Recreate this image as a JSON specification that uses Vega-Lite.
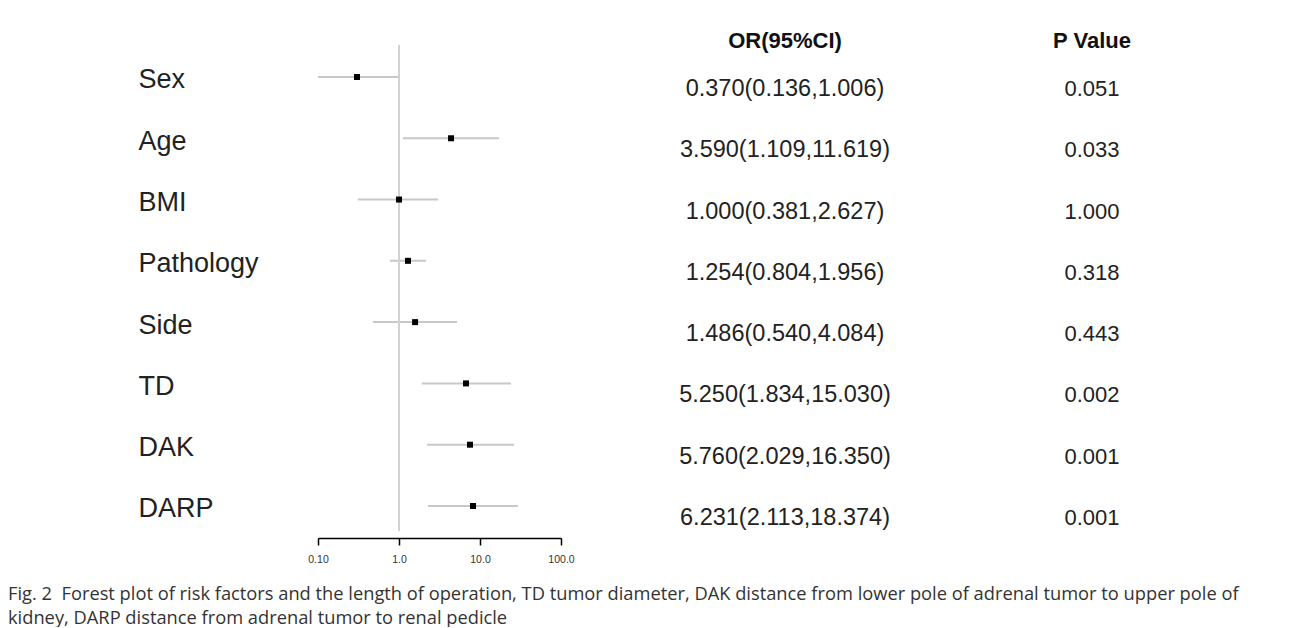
{
  "$schema": "https://vega.github.io/schema/vega-lite/v6.json",
  "padding": {"left": 8, "top": 29, "right": 5, "bottom": 0},
  "background": "white",
  "config": {"view": {"stroke": null}, "font": "Liberation Sans"},
  "spacing": 10,
  "bounds": "flush",
  "title": {
    "text": [
      "Fig. 2\u00a0 Forest plot of risk factors and the length of operation, TD tumor diameter, DAK distance from lower pole of adrenal tumor to upper pole of",
      "kidney, DARP distance from adrenal tumor to renal pedicle"
    ],
    "orient": "bottom",
    "anchor": "start",
    "frame": "bounds",
    "dx": -130,
    "offset": 21,
    "font": "Open Sans",
    "fontSize": 18.3,
    "fontWeight": "normal",
    "color": "#333333",
    "lineHeight": 24,
    "baseline": "top"
  },
  "datasets": {
    "rows": [
      {"row": 1, "factor": "Sex", "or": 0.303, "lo": 0.1, "hi": 1.0, "ci": "0.370(0.136,1.006)", "p": "0.051"},
      {"row": 2, "factor": "Age", "or": 4.39, "lo": 1.12, "hi": 17.2, "ci": "3.590(1.109,11.619)", "p": "0.033"},
      {"row": 3, "factor": "BMI", "or": 1.0, "lo": 0.312, "hi": 3.03, "ci": "1.000(0.381,2.627)", "p": "1.000"},
      {"row": 4, "factor": "Pathology", "or": 1.29, "lo": 0.774, "hi": 2.15, "ci": "1.254(0.804,1.956)", "p": "0.318"},
      {"row": 5, "factor": "Side", "or": 1.58, "lo": 0.478, "hi": 5.2, "ci": "1.486(0.540,4.084)", "p": "0.443"},
      {"row": 6, "factor": "TD", "or": 6.72, "lo": 1.92, "hi": 24.1, "ci": "5.250(1.834,15.030)", "p": "0.002"},
      {"row": 7, "factor": "DAK", "or": 7.52, "lo": 2.22, "hi": 26.3, "ci": "5.760(2.029,16.350)", "p": "0.001"},
      {"row": 8, "factor": "DARP", "or": 8.2, "lo": 2.28, "hi": 29.4, "ci": "6.231(2.113,18.374)", "p": "0.001"}
    ]
  },
  "hconcat": [
    {
      "width": 243,
      "height": 486,
      "data": {"name": "rows"},
      "layer": [
        {
          "mark": {"type": "rule", "color": "#c8c8c8", "strokeWidth": 2},
          "encoding": {
            "x": {
              "field": "lo", "type": "quantitative",
              "scale": {"type": "log", "domain": [0.1, 100], "nice": false},
              "axis": {
                "orient": "bottom", "offset": 7, "values": [0.1, 1, 10, 100],
                "labelExpr": "datum.value < 1 ? '0.10' : format(datum.value, '.1f')",
                "domainColor": "#000000", "domainWidth": 1.5,
                "tickColor": "#000000", "tickWidth": 1.5, "tickSize": 7,
                "labelFontSize": 10.5, "labelColor": "#333333", "labelPadding": 9,
                "labelFlush": false, "labelOverlap": false, "grid": false, "title": null
              }
            },
            "x2": {"field": "hi"},
            "y": {
              "field": "factor", "type": "nominal",
              "sort": ["Sex", "Age", "BMI", "Pathology", "Side", "TD", "DAK", "DARP"],
              "scale": {"type": "point", "padding": 0.465, "align": 0.561},
              "axis": {
                "orient": "left", "domain": false, "ticks": false, "tickSize": 0,
                "labelAlign": "left", "labelPadding": 180, "labelFontSize": 27,
                "labelColor": "#222222", "labelOffset": 3, "labelLimit": 300,
                "labelBaseline": "middle", "title": null, "grid": false
              }
            }
          }
        },
        {
          "data": {"values": [{"ref": 1}]},
          "mark": {"type": "rule", "color": "#d2d2d2", "strokeWidth": 2},
          "encoding": {
            "x": {"field": "ref", "type": "quantitative", "scale": {"type": "log", "domain": [0.1, 100], "nice": false}}
          }
        },
        {
          "mark": {"type": "point", "shape": "square", "filled": true, "color": "#000000", "size": 36, "opacity": 1},
          "encoding": {
            "x": {"field": "or", "type": "quantitative", "scale": {"type": "log", "domain": [0.1, 100], "nice": false}},
            "y": {
              "field": "factor", "type": "nominal",
              "sort": ["Sex", "Age", "BMI", "Pathology", "Side", "TD", "DAK", "DARP"],
              "scale": {"type": "point", "padding": 0.465, "align": 0.561}
            }
          }
        }
      ]
    },
    {
      "width": 428,
      "height": 486,
      "data": {"name": "rows"},
      "encoding": {
        "y": {
          "field": "factor", "type": "nominal",
          "sort": ["Sex", "Age", "BMI", "Pathology", "Side", "TD", "DAK", "DARP"],
          "scale": {"type": "point", "padding": 0.465, "align": 0.561},
          "axis": null
        }
      },
      "layer": [
        {
          "mark": {"type": "text", "fontSize": 23.5, "dy": 12, "color": "#222222"},
          "encoding": {"text": {"field": "ci"}}
        },
        {
          "transform": [{"filter": "datum.row == 1"}],
          "mark": {"type": "text", "fontSize": 22, "fontWeight": "bold", "dy": -36, "color": "#111111"},
          "encoding": {"text": {"value": "OR(95%CI)"}}
        }
      ]
    },
    {
      "width": 166,
      "height": 486,
      "data": {"name": "rows"},
      "encoding": {
        "y": {
          "field": "factor", "type": "nominal",
          "sort": ["Sex", "Age", "BMI", "Pathology", "Side", "TD", "DAK", "DARP"],
          "scale": {"type": "point", "padding": 0.465, "align": 0.561},
          "axis": null
        }
      },
      "layer": [
        {
          "mark": {"type": "text", "fontSize": 22, "dy": 12, "color": "#222222"},
          "encoding": {"text": {"field": "p"}}
        },
        {
          "transform": [{"filter": "datum.row == 1"}],
          "mark": {"type": "text", "fontSize": 22, "fontWeight": "bold", "dy": -36, "color": "#111111"},
          "encoding": {"text": {"value": "P Value"}}
        }
      ]
    }
  ]
}
